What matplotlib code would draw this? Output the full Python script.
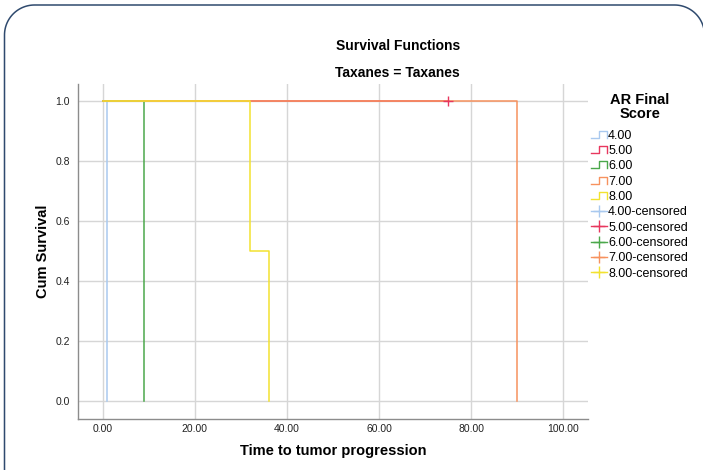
import matplotlib
matplotlib.use("Agg")
import numpy as np
import matplotlib.pyplot as plt
from matplotlib.lines import Line2D
from matplotlib.legend_handler import HandlerBase

plt.rcParams['font.family'] = ['Liberation Sans', 'DejaVu Sans']

# ---- data ----
groups = ['4.00', '5.00', '6.00', '7.00', '8.00']
colors = ['#a9c9ef', '#e8375e', '#4ba84b', '#f7925e', '#f2e230']
times_4 = [0, 1]
surv_4 = [1.0, 0.0]
times_5 = [0, 75]
surv_5 = [1.0, 1.0]
times_6 = [0, 9]
surv_6 = [1.0, 0.0]
times_7 = [0, 90]
surv_7 = [1.0, 0.0]
times_8 = [0, 32, 36]
surv_8 = [1.0, 0.5, 0.0]
censor_5_t = [75]
censor_5_s = [1.0]

xticks = [0, 20, 40, 60, 80, 100]
yticks = [0.0, 0.2, 0.4, 0.6, 0.8, 1.0]

W, H = 703, 470
fig = plt.figure(figsize=(W/100, H/100), dpi=100)
ax = fig.add_axes([78/W, 1-418.5/H, (588-78)/W, (418.5-84)/H])

series = [(times_4, surv_4), (times_5, surv_5), (times_6, surv_6),
          (times_7, surv_7), (times_8, surv_8)]
for (t, s), c in zip(series, colors):
    ax.plot(t, s, drawstyle='steps-post', color=c, lw=1.1, zorder=3)
ax.plot(censor_5_t, censor_5_s, linestyle='none', marker='+', markersize=7,
        mew=1.0, color=colors[1], zorder=4)

ax.set_xlim(-5.4, 105.4)
ax.set_ylim(-0.06, 1.057)
ax.set_xticks(xticks)
ax.set_xticklabels([f'{v:.2f}' for v in xticks])
ax.set_yticks(yticks)
ax.set_yticklabels([f'{v:.1f}' for v in yticks])
ax.tick_params(axis='x', length=0, labelsize=7.5, labelcolor='#222222', pad=4)
ax.tick_params(axis='y', length=0, labelsize=7.5, labelcolor='#222222', pad=6)
ax.grid(True, color='#d6d6d6', lw=1.0, zorder=0)
ax.set_axisbelow(True)
for sp in ['top', 'right']:
    ax.spines[sp].set_visible(False)
for sp in ['left', 'bottom']:
    ax.spines[sp].set_color('#8c8c8c')
    ax.spines[sp].set_linewidth(1.0)

ax.set_xlabel('Time to tumor progression', fontsize=10.5, fontweight='bold', labelpad=7)
ax.set_ylabel('Cum Survival', fontsize=10.5, fontweight='bold', labelpad=4)

fig.text(398/W, 1-46/H, 'Survival Functions', ha='center', va='center',
         fontsize=10, fontweight='bold')
fig.text(397/W, 1-73/H, 'Taxanes = Taxanes', ha='center', va='center',
         fontsize=10, fontweight='bold')


class StepHandler(HandlerBase):
    def create_artists(self, legend, orig_handle, xdescent, ydescent,
                       width, height, fontsize, trans):
        x0 = -xdescent
        y0 = -ydescent
        xs = [x0, x0 + 0.5*width, x0 + 0.5*width, x0 + width, x0 + width]
        ys = [y0 + 0.1*height, y0 + 0.1*height, y0 + 0.9*height,
              y0 + 0.9*height, y0 + 0.1*height]
        ln = Line2D(xs, ys, color=orig_handle.get_color(), lw=1.0)
        ln.set_transform(trans)
        return [ln]


step_handles = [Line2D([], [], color=c) for c in colors]
cens_handles = [Line2D([0, 1], [0, 0], color=c, lw=1.0, marker='+',
                       markersize=9, mew=1.0) for c in colors]
handles = step_handles + cens_handles
labels = groups + [g + '-censored' for g in groups]
handler_map = {h: StepHandler() for h in step_handles}
leg = fig.legend(handles, labels, handler_map=handler_map,
                 loc='upper left', bbox_to_anchor=(585/W, 1-87/H),
                 frameon=False, fontsize=9, handlelength=1.25,
                 handletextpad=0.1, labelspacing=0.265, borderpad=0,
                 title='AR Final\nScore',
                 title_fontproperties={'weight': 'bold', 'size': 10.5})
leg._legend_box.align = 'center'
leg._legend_box.sep = 6.5
leg.get_title().set_multialignment('center')
leg.get_title().set_linespacing(0.95)

# rounded page border (pixel geometry converted to figure fraction)
r = 30.0
left, top, right, bottom = 4.5, 5.0, 704.5, 520.0
a1 = np.linspace(np.pi, np.pi/2, 30)
a2 = np.linspace(np.pi/2, 0.12, 30)
bx = np.concatenate([[left], left + r + r*np.cos(a1), right - r + r*np.cos(a2)])
by = np.concatenate([[bottom], top + r - r*np.sin(a1), top + r - r*np.sin(a2)])
fig.add_artist(Line2D(bx/W, 1 - by/H, transform=fig.transFigure,
                      color='#2f4a6e', lw=1.1))

fig.savefig('out.png', dpi=100)
